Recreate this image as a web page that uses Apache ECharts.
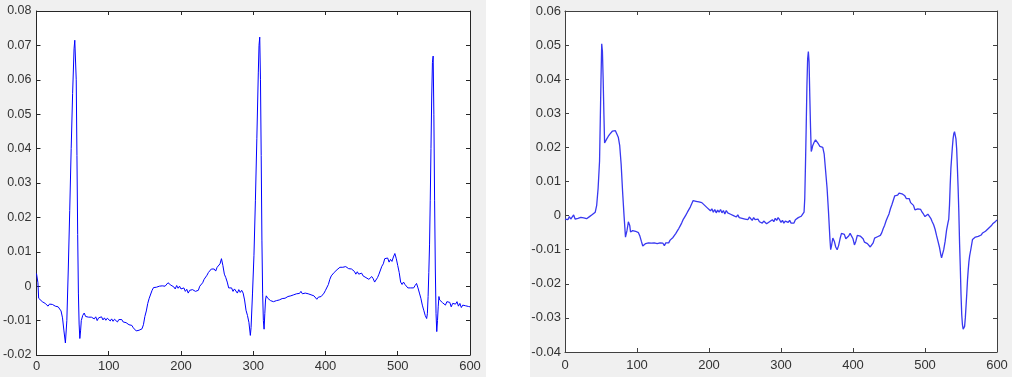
<!DOCTYPE html>
<html>
<head>
<meta charset="utf-8">
<script src="https://cdn.jsdelivr.net/npm/echarts@6/dist/echarts.min.js"></script>
<style>
html,body{margin:0;padding:0;background:#fff;}
#chart{width:1012px;height:377px;}
</style>
</head>
<body>
<div id="chart"></div>
<script>
// ---- data ----
const xRange = [0, 600];
const xTickStep = 100;
const leftYRange = [-0.02, 0.08];
const rightYRange = [-0.04, 0.06];
const yTickStep = 0.01;

// left panel signal: [sample, amplitude]
const leftSignal = [[0,0.0037],[2,0.0010],[3,-0.0035],[5,-0.0040],[8,-0.0045],[10,-0.0048],[12,-0.0050],[14,-0.0055],[16,-0.0058],[18,-0.0052],[20,-0.0050],[22,-0.0053],[24,-0.0051],[26,-0.0058],[28,-0.0055],[30,-0.0060],[32,-0.0064],[34,-0.0072],[36,-0.0092],[38,-0.0130],[40,-0.0165],[42,-0.0100],[44,0.0050],[46,0.0220],[48,0.0400],[50,0.0560],[52,0.0690],[53,0.0715],[54,0.0710],[55,0.0600],[56,0.0380],[57,0.0150],[58,-0.0020],[59,-0.0110],[60,-0.0152],[61,-0.0130],[62,-0.0100],[64,-0.0085],[66,-0.0078],[68,-0.0088],[70,-0.0085],[72,-0.0090],[74,-0.0086],[76,-0.0090],[78,-0.0087],[80,-0.0095],[82,-0.0089],[84,-0.0100],[86,-0.0092],[88,-0.0096],[90,-0.0089],[92,-0.0098],[94,-0.0092],[96,-0.0099],[98,-0.0093],[100,-0.0096],[102,-0.0101],[104,-0.0095],[106,-0.0102],[108,-0.0096],[110,-0.0100],[112,-0.0104],[114,-0.0097],[116,-0.0102],[118,-0.0097],[120,-0.0104],[122,-0.0101],[124,-0.0106],[126,-0.0108],[128,-0.0112],[130,-0.0117],[132,-0.0114],[134,-0.0121],[136,-0.0125],[138,-0.0130],[140,-0.0134],[142,-0.0128],[144,-0.0127],[146,-0.0124],[148,-0.0112],[150,-0.0088],[152,-0.0072],[154,-0.0050],[156,-0.0035],[158,-0.0032],[160,-0.0012],[162,-0.0004],[164,0.0000],[166,-0.0003],[168,0.0002],[170,0.0000],[172,0.0004],[174,0.0001],[176,0.0006],[178,0.0000],[180,0.0005],[182,0.0010],[184,0.0009],[186,0.0003],[188,0.0006],[190,-0.0002],[192,-0.0008],[194,0.0002],[196,-0.0006],[198,0.0000],[200,-0.0008],[202,-0.0012],[204,-0.0005],[206,-0.0015],[208,-0.0009],[210,-0.0020],[212,-0.0012],[214,-0.0017],[216,-0.0010],[218,-0.0008],[220,-0.0015],[222,-0.0010],[224,-0.0012],[226,0.0000],[228,0.0003],[230,0.0010],[232,0.0020],[234,0.0025],[236,0.0032],[238,0.0040],[240,0.0045],[242,0.0050],[244,0.0055],[246,0.0050],[248,0.0044],[250,0.0055],[252,0.0056],[254,0.0065],[256,0.0080],[258,0.0060],[260,0.0035],[262,0.0025],[264,0.0012],[266,-0.0005],[268,-0.0010],[270,-0.0005],[272,-0.0015],[274,-0.0008],[276,-0.0012],[278,-0.0020],[280,-0.0010],[282,-0.0018],[284,-0.0012],[286,-0.0020],[288,-0.0040],[290,-0.0070],[292,-0.0085],[294,-0.0105],[296,-0.0143],[297,-0.0120],[299,-0.0020],[301,0.0090],[303,0.0250],[305,0.0430],[307,0.0620],[308,0.0700],[309,0.0724],[310,0.0600],[311,0.0380],[312,0.0134],[313,-0.0020],[314,-0.0100],[315,-0.0125],[316,-0.0080],[317,-0.0040],[318,-0.0028],[320,-0.0035],[322,-0.0030],[324,-0.0042],[326,-0.0038],[328,-0.0045],[330,-0.0040],[332,-0.0042],[334,-0.0038],[336,-0.0040],[338,-0.0043],[340,-0.0036],[342,-0.0040],[344,-0.0035],[346,-0.0038],[348,-0.0030],[350,-0.0034],[352,-0.0028],[354,-0.0032],[356,-0.0025],[358,-0.0028],[360,-0.0022],[362,-0.0018],[364,-0.0021],[366,-0.0015],[368,-0.0022],[370,-0.0018],[372,-0.0020],[374,-0.0018],[376,-0.0022],[378,-0.0020],[380,-0.0025],[382,-0.0020],[384,-0.0028],[386,-0.0030],[388,-0.0038],[390,-0.0032],[392,-0.0035],[394,-0.0030],[396,-0.0025],[398,-0.0020],[400,-0.0012],[402,-0.0010],[404,0.0005],[406,0.0020],[408,0.0030],[410,0.0035],[412,0.0040],[414,0.0045],[416,0.0048],[418,0.0050],[420,0.0055],[422,0.0053],[424,0.0055],[426,0.0051],[428,0.0057],[430,0.0055],[432,0.0051],[434,0.0055],[436,0.0050],[438,0.0045],[440,0.0043],[442,0.0035],[444,0.0042],[446,0.0035],[448,0.0030],[450,0.0038],[452,0.0030],[454,0.0035],[456,0.0025],[458,0.0030],[460,0.0020],[462,0.0015],[464,0.0028],[466,0.0022],[468,0.0012],[470,0.0010],[472,0.0025],[474,0.0035],[476,0.0040],[478,0.0058],[480,0.0065],[482,0.0080],[484,0.0075],[486,0.0082],[488,0.0070],[490,0.0078],[492,0.0072],[494,0.0085],[496,0.0095],[498,0.0080],[500,0.0060],[502,0.0040],[504,0.0012],[506,0.0005],[508,0.0012],[510,0.0005],[512,0.0008],[514,-0.0005],[516,-0.0008],[518,-0.0005],[520,-0.0010],[522,-0.0005],[524,0.0002],[526,0.0008],[528,-0.0005],[530,-0.0020],[532,-0.0035],[534,-0.0055],[536,-0.0070],[538,-0.0085],[540,-0.0094],[541,-0.0080],[542,-0.0030],[543,0.0040],[544,0.0120],[545,0.0250],[546,0.0400],[547,0.0550],[548,0.0650],[549,0.0669],[550,0.0500],[551,0.0250],[552,0.0050],[553,-0.0080],[554,-0.0132],[555,-0.0100],[556,-0.0060],[557,-0.0030],[558,-0.0040],[560,-0.0040],[562,-0.0048],[564,-0.0044],[566,-0.0055],[568,-0.0045],[570,-0.0050],[572,-0.0047],[574,-0.0060],[576,-0.0050],[578,-0.0048],[580,-0.0052],[582,-0.0045],[584,-0.0058],[586,-0.0050],[588,-0.0062],[590,-0.0055],[592,-0.0060],[594,-0.0057],[596,-0.0062],[598,-0.0059],[600,-0.0060]];

// right panel signal: [sample, amplitude]
const rightSignal = [[0,-0.0010],[2,-0.0005],[4,-0.0012],[6,-0.0003],[8,-0.0010],[10,-0.0008],[12,0.0002],[14,-0.0010],[16,-0.0012],[18,-0.0008],[20,-0.0010],[22,-0.0005],[24,-0.0010],[26,-0.0007],[28,-0.0004],[30,-0.0009],[32,-0.0007],[34,-0.0003],[36,0.0000],[38,0.0003],[40,0.0005],[42,0.0010],[44,0.0030],[46,0.0080],[48,0.0160],[49,0.0280],[50,0.0400],[51,0.0504],[52,0.0480],[53,0.0400],[54,0.0300],[55,0.0213],[56,0.0210],[58,0.0225],[60,0.0232],[62,0.0238],[64,0.0242],[66,0.0248],[68,0.0244],[70,0.0249],[72,0.0245],[74,0.0230],[76,0.0205],[78,0.0150],[80,0.0070],[82,0.0000],[84,-0.0063],[85,-0.0060],[86,-0.0045],[87,-0.0032],[88,-0.0018],[89,-0.0016],[90,-0.0030],[91,-0.0048],[92,-0.0050],[94,-0.0044],[96,-0.0042],[98,-0.0046],[100,-0.0045],[102,-0.0050],[104,-0.0060],[106,-0.0075],[108,-0.0089],[110,-0.0085],[112,-0.0082],[114,-0.0086],[116,-0.0080],[118,-0.0085],[120,-0.0081],[122,-0.0086],[124,-0.0080],[126,-0.0084],[128,-0.0082],[130,-0.0087],[132,-0.0080],[134,-0.0085],[136,-0.0081],[138,-0.0088],[140,-0.0080],[142,-0.0078],[144,-0.0080],[146,-0.0072],[148,-0.0068],[150,-0.0064],[152,-0.0058],[154,-0.0052],[156,-0.0045],[158,-0.0038],[160,-0.0030],[162,-0.0022],[164,-0.0012],[166,-0.0005],[168,0.0002],[170,0.0010],[172,0.0015],[174,0.0025],[176,0.0035],[178,0.0044],[180,0.0045],[182,0.0042],[184,0.0044],[186,0.0040],[188,0.0036],[190,0.0038],[192,0.0034],[194,0.0030],[196,0.0028],[198,0.0022],[200,0.0026],[202,0.0014],[204,0.0020],[206,0.0010],[208,0.0018],[210,0.0008],[212,0.0016],[214,0.0010],[216,0.0018],[218,0.0008],[220,0.0015],[222,0.0005],[224,0.0015],[226,0.0008],[228,0.0012],[230,0.0004],[232,0.0008],[234,0.0000],[236,0.0004],[238,-0.0004],[240,0.0002],[242,-0.0006],[244,-0.0002],[246,-0.0008],[248,-0.0004],[250,-0.0010],[252,-0.0006],[254,-0.0012],[256,-0.0004],[258,-0.0008],[260,-0.0014],[262,-0.0006],[264,-0.0012],[266,-0.0016],[268,-0.0010],[270,-0.0018],[272,-0.0014],[274,-0.0022],[276,-0.0016],[278,-0.0020],[280,-0.0024],[282,-0.0026],[284,-0.0018],[286,-0.0022],[288,-0.0012],[290,-0.0018],[292,-0.0008],[294,-0.0014],[296,-0.0006],[298,-0.0012],[300,-0.0020],[302,-0.0014],[304,-0.0022],[306,-0.0016],[308,-0.0012],[310,-0.0020],[312,-0.0014],[314,-0.0022],[316,-0.0018],[318,-0.0022],[320,-0.0012],[322,-0.0016],[324,-0.0006],[326,-0.0004],[328,-0.0002],[330,0.0000],[332,0.0010],[333,0.0050],[334,0.0150],[335,0.0260],[336,0.0380],[337,0.0460],[338,0.0481],[339,0.0450],[340,0.0350],[341,0.0260],[342,0.0188],[343,0.0195],[344,0.0205],[346,0.0215],[348,0.0222],[350,0.0220],[352,0.0210],[354,0.0203],[356,0.0206],[358,0.0200],[360,0.0180],[362,0.0130],[364,0.0080],[366,0.0010],[368,-0.0070],[369,-0.0100],[370,-0.0090],[372,-0.0066],[374,-0.0075],[376,-0.0092],[378,-0.0100],[380,-0.0088],[382,-0.0068],[384,-0.0052],[386,-0.0047],[388,-0.0055],[390,-0.0068],[392,-0.0071],[394,-0.0060],[396,-0.0052],[398,-0.0053],[400,-0.0068],[402,-0.0086],[404,-0.0075],[406,-0.0058],[408,-0.0056],[410,-0.0060],[412,-0.0058],[414,-0.0068],[416,-0.0078],[418,-0.0080],[420,-0.0082],[422,-0.0086],[424,-0.0092],[426,-0.0095],[428,-0.0080],[430,-0.0066],[432,-0.0064],[434,-0.0062],[436,-0.0060],[438,-0.0058],[440,-0.0050],[442,-0.0038],[444,-0.0028],[446,-0.0015],[448,-0.0005],[450,0.0005],[452,0.0020],[454,0.0032],[456,0.0045],[458,0.0058],[460,0.0062],[462,0.0060],[464,0.0066],[466,0.0068],[468,0.0064],[470,0.0060],[472,0.0058],[474,0.0050],[476,0.0046],[478,0.0050],[480,0.0038],[482,0.0036],[484,0.0030],[486,0.0017],[488,0.0015],[490,0.0020],[492,0.0016],[494,0.0018],[496,0.0010],[498,0.0004],[500,-0.0003],[502,0.0000],[504,0.0004],[506,0.0002],[508,-0.0008],[510,-0.0018],[512,-0.0027],[514,-0.0040],[516,-0.0058],[518,-0.0075],[520,-0.0092],[522,-0.0115],[523,-0.0124],[524,-0.0120],[526,-0.0100],[528,-0.0075],[530,-0.0042],[532,-0.0020],[533,-0.0010],[534,0.0030],[535,0.0090],[536,0.0140],[537,0.0170],[538,0.0200],[539,0.0225],[540,0.0240],[541,0.0246],[542,0.0244],[543,0.0225],[544,0.0195],[545,0.0140],[546,0.0080],[547,0.0010],[548,-0.0080],[549,-0.0150],[550,-0.0230],[551,-0.0290],[552,-0.0320],[553,-0.0333],[554,-0.0337],[555,-0.0325],[556,-0.0300],[557,-0.0265],[558,-0.0230],[559,-0.0190],[560,-0.0160],[561,-0.0135],[562,-0.0118],[564,-0.0095],[566,-0.0070],[568,-0.0066],[570,-0.0063],[572,-0.0060],[574,-0.0061],[576,-0.0056],[578,-0.0057],[580,-0.0051],[582,-0.0052],[584,-0.0046],[586,-0.0044],[588,-0.0038],[590,-0.0033],[592,-0.0030],[594,-0.0024],[596,-0.0022],[598,-0.0017],[600,-0.0013]];

// ---- chart ----
const fmt = v => String(parseFloat(Number(v).toFixed(2)));
const FONT = 'Liberation Sans, Arial, sans-serif';

function xAx(gridIndex, pos, showLabel, color, fontSize, margin) {
  return {
    type: 'value', gridIndex, position: pos,
    min: xRange[0], max: xRange[1], interval: xTickStep,
    axisLine: { show: true, onZero: false, lineStyle: { color, width: 1 } },
    axisTick: { show: true, inside: true, length: 4, lineStyle: { color } },
    axisLabel: { show: showLabel, color: '#333', fontFamily: FONT, fontSize, margin },
    splitLine: { show: false }
  };
}
function yAx(gridIndex, pos, range, showLabel, color, fontSize, margin) {
  return {
    type: 'value', gridIndex, position: pos,
    min: range[0], max: range[1], interval: yTickStep,
    axisLine: { show: true, onZero: false, lineStyle: { color, width: 1 } },
    axisTick: { show: true, inside: true, length: 4, lineStyle: { color } },
    axisLabel: { show: showLabel, color: '#333', fontFamily: FONT, fontSize, margin, formatter: fmt },
    splitLine: { show: false }
  };
}

const chart = echarts.init(document.getElementById('chart'), null, { renderer: 'canvas' });
chart.setOption({
  backgroundColor: '#ffffff',
  animation: false,
  graphic: [
    { type: 'rect', left: 0, top: 0, shape: { width: 486, height: 377 }, style: { fill: '#f0f0f0' }, z: -10, silent: true },
    { type: 'rect', left: 530, top: 0, shape: { width: 482, height: 377 }, style: { fill: '#f0f0f0' }, z: -10, silent: true }
  ],
  grid: [
    { left: 36, top: 11, width: 434, height: 344, show: true, backgroundColor: '#ffffff', borderWidth: 0 },
    { left: 565, top: 11, width: 432, height: 341, show: true, backgroundColor: '#ffffff', borderWidth: 0 }
  ],
  xAxis: [
    xAx(0, 'bottom', true, '#262626', 13, 5),
    xAx(0, 'top', false, '#262626', 13, 5),
    xAx(1, 'bottom', true, '#404040', 13, 7),
    xAx(1, 'top', false, '#404040', 13, 7)
  ],
  yAxis: [
    yAx(0, 'left', leftYRange, true, '#262626', 12.5, 5),
    yAx(0, 'right', leftYRange, false, '#262626', 12.5, 5),
    yAx(1, 'left', rightYRange, true, '#404040', 13, 4),
    yAx(1, 'right', rightYRange, false, '#404040', 13, 4)
  ],
  series: [
    { type: 'line', xAxisIndex: 0, yAxisIndex: 0, data: leftSignal, showSymbol: false,
      lineStyle: { color: '#0000ff', width: 1 }, clip: true },
    { type: 'line', xAxisIndex: 2, yAxisIndex: 2, data: rightSignal, showSymbol: false,
      lineStyle: { color: '#3838f0', width: 1.3 }, clip: true }
  ]
});
</script>
</body>
</html>
